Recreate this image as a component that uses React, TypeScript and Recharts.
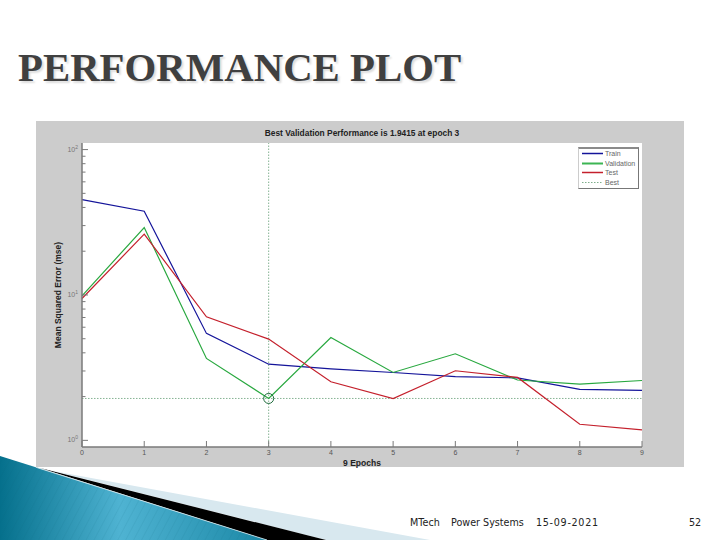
import { CartesianGrid, Label, Line, LineChart, ReferenceDot, ReferenceLine, XAxis, YAxis } from "recharts";

const epochs = [0, 1, 2, 3, 4, 5, 6, 7, 8, 9];
const train = [45.3, 37.7, 5.44, 3.34, 3.1, 2.93, 2.74, 2.69, 2.24, 2.21];
const validation = [9.86, 29.1, 3.66, 1.9415, 5.1, 2.93, 3.94, 2.6, 2.44, 2.58];
const test = [9.46, 26.2, 7.07, 4.97, 2.53, 1.94, 3.01, 2.71, 1.29, 1.18];
const yTicks = [1, 2, 3, 4, 5, 6, 7, 8, 9, 10, 20, 30, 40, 50, 60, 70, 80, 90, 100];
const decades: Record<number, string> = { 1: "0", 10: "1", 100: "2" };
const legendItems = [
  { name: "Train", color: "#14149a", width: 1.5, dash: "" },
  { name: "Validation", color: "#3cb553", width: 2, dash: "" },
  { name: "Test", color: "#c4202c", width: 1.5, dash: "" },
  { name: "Best", color: "#7fae8c", width: 1, dash: "1.5 1.5" },
];

const rows = epochs.map((epoch, i) => ({
  epoch,
  train: train[i],
  validation: validation[i],
  test: test[i],
}));

const AXIS = "#7a7a7a";
const BEST = "#86b394";

function XTick({ x, y, payload }: any) {
  return (
    <g>
      <line x1={x} x2={x} y1={y} y2={y - 6} stroke={AXIS} />
      <text x={x} y={y + 8} textAnchor="middle" fontSize={7} fill="#555" fontFamily="Liberation Sans">
        {payload.value}
      </text>
    </g>
  );
}

function YTick({ x, y, payload }: any) {
  const sup = decades[payload.value];
  return (
    <g>
      <line x1={x} x2={x + (sup ? 6 : 3.5)} y1={y} y2={y} stroke={AXIS} />
      {sup && (
        <text x={x - 4} y={y + 2} textAnchor="end" fontSize={7} fill="#777" fontFamily="Liberation Sans">
          10
          <tspan dy={-3} fontSize={5}>
            {sup}
          </tspan>
        </text>
      )}
    </g>
  );
}

function SlideArt() {
  return (
    <svg width={720} height={540} style={{ position: "absolute", left: 0, top: 0 }}>
      <defs>
        <linearGradient id="blue" x1="0" y1="0" x2="1" y2="0">
          <stop offset="0" stopColor="#05708c" />
          <stop offset="0.45" stopColor="#4fb3d2" />
          <stop offset="1" stopColor="#1b88a6" />
        </linearGradient>
        <pattern id="hatch" width="7" height="7" patternUnits="userSpaceOnUse" patternTransform="rotate(28)">
          <line x1="0" y1="0" x2="0" y2="7" stroke="#0b5f78" strokeOpacity="0.18" />
        </pattern>
      </defs>
      <polygon points="53,471 430,540 326,540" fill="#d8e8ef" />
      <polygon points="40,468 326,540 267,540" fill="#000" />
      <polygon points="0,456 267,540 0,540" fill="url(#blue)" />
      <polygon points="0,456 267,540 0,540" fill="url(#hatch)" />
      <line x1="36" y1="467.3" x2="267" y2="540" stroke="#cfe3ea" strokeWidth="0.8" />
    </svg>
  );
}

const footerStyle = {
  position: "absolute",
  top: 516,
  fontFamily: "DejaVu Sans",
  fontSize: 9.6,
  lineHeight: "13px",
  color: "#222",
  whiteSpace: "pre",
} as const;

export default function App() {
  return (
    <div style={{ position: "absolute", left: 0, top: 0, width: 720, height: 540, background: "#fff", overflow: "hidden" }}>
      <div
        style={{
          position: "absolute",
          left: 18,
          top: 44,
          fontFamily: "Liberation Serif",
          fontWeight: 700,
          fontSize: 40.8,
          lineHeight: "48px",
          color: "#404040",
          whiteSpace: "nowrap",
          textShadow: "2px 2px 2px #dddddd",
        }}
      >
        PERFORMANCE PLOT
      </div>
      <div style={{ position: "absolute", left: 36, top: 121, width: 648, height: 346, background: "#cccccc" }} />
      <SlideArt />
      <div
        style={{
          position: "absolute",
          left: 82,
          top: 128,
          width: 560,
          textAlign: "center",
          fontFamily: "Liberation Sans",
          fontWeight: 700,
          fontSize: 8.4,
          lineHeight: "11px",
          color: "#222",
        }}
      >
        Best Validation Performance is 1.9415 at epoch 3
      </div>
      <div style={{ position: "absolute", left: 0, top: 0 }}>
        <LineChart
          width={720}
          height={540}
          data={rows}
          margin={{ top: 143, right: 78, bottom: 73, left: 36 }}
        >
          <CartesianGrid horizontal={false} vertical={false} fill="#fff" />
          <XAxis
            dataKey="epoch"
            type="number"
            domain={[0, 9]}
            ticks={epochs}
            interval={0}
            height={20}
            stroke={AXIS}
            strokeWidth={1.5}
            tickLine={false}
            tickSize={0}
            tickMargin={0}
            tick={<XTick />}
          >
            <Label
              value="9 Epochs"
              position="insideBottom"
              offset={1}
              style={{ fontFamily: "Liberation Sans", fontWeight: 700, fontSize: 8.5, fill: "#222" }}
            />
          </XAxis>
          <YAxis
            type="number"
            scale="log"
            domain={[0.9, 111]}
            allowDataOverflow
            ticks={yTicks}
            interval={0}
            width={46}
            stroke={AXIS}
            strokeWidth={1.5}
            tickLine={false}
            tickSize={0}
            tickMargin={0}
            tick={<YTick />}
          >
            <Label
              value="Mean Squared Error  (mse)"
              angle={-90}
              position="insideLeft"
              offset={0}
              dx={22}
              dy={0}
              style={{ textAnchor: "middle", fontFamily: "Liberation Sans", fontWeight: 700, fontSize: 8.5, fill: "#222" }}
            />
          </YAxis>
          <ReferenceLine x={3} stroke={BEST} strokeDasharray="1.5 1.5" />
          <ReferenceLine y={1.9415} stroke={BEST} strokeDasharray="1.5 1.5" />
          <Line dataKey="train" name="Train" stroke="#14149a" strokeWidth={1.2} dot={false} isAnimationActive={false} />
          <Line dataKey="validation" name="Validation" stroke="#28a83f" strokeWidth={1.2} dot={false} isAnimationActive={false} />
          <Line dataKey="test" name="Test" stroke="#c4202c" strokeWidth={1.2} dot={false} isAnimationActive={false} />
          <ReferenceDot x={3} y={1.9415} r={5} fill="none" stroke="#1e6b3c" strokeWidth={1} />
        </LineChart>
      </div>
      <div
        style={{
          position: "absolute",
          left: 578,
          top: 147,
          width: 61,
          height: 42,
          boxSizing: "border-box",
          background: "#fff",
          borderTop: "2px solid #8a8a8a",
          borderLeft: "1px solid #ccc",
          borderRight: "1px solid #777",
          borderBottom: "1px solid #777",
          fontFamily: "Liberation Sans",
          fontSize: 7,
          color: "#666",
        }}
      >
        {legendItems.map((item) => (
          <div key={item.name} style={{ display: "flex", alignItems: "center", height: 9.6 }}>
            <svg width={26} height={9} style={{ flex: "none" }}>
              <line x1={3} x2={24} y1={4.5} y2={4.5} stroke={item.color} strokeWidth={item.width} strokeDasharray={item.dash} />
            </svg>
            <span>{item.name}</span>
          </div>
        ))}
      </div>
      <div style={{ ...footerStyle, left: 410 }}>MTech</div>
      <div style={{ ...footerStyle, left: 451 }}>Power Systems</div>
      <div style={{ ...footerStyle, left: 536, letterSpacing: 0.7 }}>15-09-2021</div>
      <div style={{ ...footerStyle, left: 689 }}>52</div>
    </div>
  );
}
